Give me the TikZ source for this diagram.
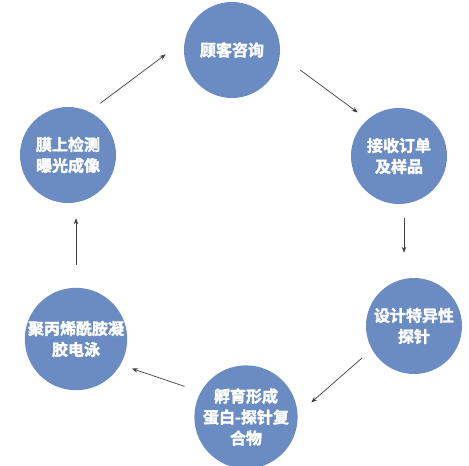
\documentclass[tikz,border=0pt]{standalone}
\usepackage{fontspec}
\usepackage{xcolor}
\usepackage{tikz}
\usetikzlibrary{arrows.meta}
\newfontfamily\cjkbold{Noto Sans CJK SC Bold}[FakeBold=2]
\definecolor{stepblue}{RGB}{107,140,194}

\begin{document}
\begin{tikzpicture}[
  x=1pt, y=-1pt,
  arrow/.style={-{Stealth[length=6pt,width=4.5pt]}, line width=0.7pt, draw=black!75},
  stage/.style={circle, fill=stepblue, minimum size=96pt, inner sep=0pt, text=white,
    align=center, font=\cjkbold\fontsize{16}{21}\selectfont}
]

  \useasboundingbox (0,0) rectangle (469,466);

  % Six stages around the cycle
  \node (consult) [stage] at (232, 50) {顾客咨询};
  \node (order) [stage] at (399, 156) {接收订单\\及样品};
  \node (probe) [stage] at (414, 326) {设计特异性\\探针};
  \node (incubate) [stage] at (246, 417) {孵育形成\\蛋白-探针复\\合物};
  \node (gel) [stage] at (76, 339) {聚丙烯酰胺凝\\胶电泳};
  \node (detect) [stage] at (68, 155) {膜上检测\\曝光成像};

  % Cycle arrows
  \draw[arrow, shorten <=14pt, shorten >=24pt] (detect.64) -- (consult.168);
  \draw[arrow, shorten <=25pt, shorten >=12pt] (consult.-6) -- (order.131);
  \draw[arrow, shorten <=14pt, shorten >=25pt] (order.-84) -- (order.-84 |- probe.north);
  \draw[arrow, shorten <=13pt, shorten >=18pt] (probe.209) -- (incubate.3);
  \draw[arrow, shorten <=17pt, shorten >=12pt] (incubate.151) -- (gel.-30);
  \draw[arrow, shorten <=23pt, shorten >=15pt] (gel.north) -- (gel.north |- detect.south);

\end{tikzpicture}
\end{document}
